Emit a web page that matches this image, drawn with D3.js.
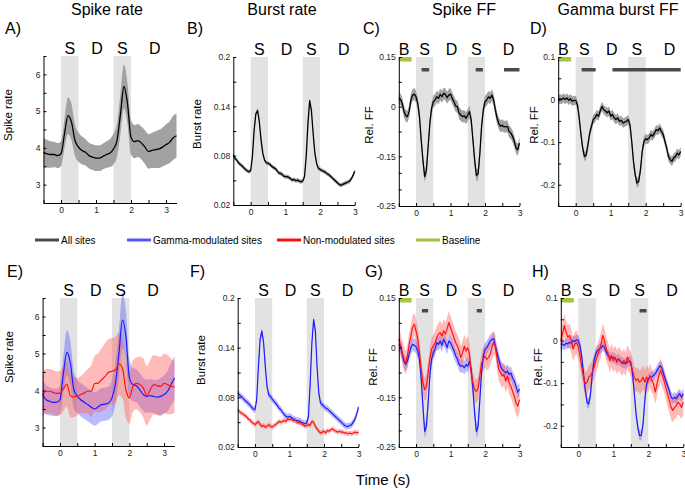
<!DOCTYPE html>
<html>
<head>
<meta charset="utf-8">
<script src="https://cdn.jsdelivr.net/npm/d3@7"></script>
<style>
  body { margin: 0; background: #fff; }
  text { font-family: "Liberation Sans", Arial, Helvetica, sans-serif; }
</style>
</head>
<body>
<div id="fig"></div>
<script>
// ---- time grids (seconds) ----
const tCoarse = d3.range(39).map(i => +(-0.5 + i * 0.1).toFixed(2));   // -0.5 .. 3.3
const tFine = d3.range(71).map(i => +(-0.5 + i * 0.05).toFixed(2));    // -0.5 .. 3.0

// ---- events ----
const stimWindows = [[0, 0.5], [1.5, 2.0]];
const baselineWindow = [-0.5, -0.13];
const eventLabels = ["S", "D", "S", "D"];
const eventTimes = [0.25, 1.03, 1.75, 2.68];
const baselineLabelTime = -0.35;

// ---- ticks ----
const timeTicks = [-0.5, 0, 0.5, 1, 1.5, 2, 2.5, 3];
const timeTickLabels = [0, 1, 2, 3];
const rateTicks = [2.5, 3, 3.5, 4, 4.5, 5, 5.5, 6, 6.5];
const rateTickVals = [3, 4, 5, 6];
const rateTickText = ["3", "4", "5", "6"];
const burstTicks = [0.02, 0.05, 0.08, 0.11, 0.14, 0.17, 0.2];
const burstTickVals = [0.02, 0.08, 0.14, 0.2];
const burstTickText = ["0.02", "0.08", "0.14", "0.2"];
const spikeFFTicks = [0.15, 0.075, 0, -0.075, -0.15, -0.2, -0.25, -0.3];
const spikeFFTickVals = [0.15, 0, -0.15, -0.3];
const spikeFFTickText = ["0.15", "0", "-0.15", "-0.25"];
const gammaFFTicks = [0.1, 0.05, 0, -0.05, -0.1, -0.15, -0.2, -0.25];
const gammaFFTickVals = [0.1, 0, -0.1, -0.2];
const gammaFFTickText = ["0.1", "0", "-0.1", "-0.2"];

// ---- significance bars ----
const sigSpikeFFAll = [[0.16, 0.38], [1.73, 1.94], [2.55, 3.0]];
const sigGammaFFAll = [[0.17, 0.57], [1.05, 3.0]];
const sigSpikeFFSplit = [[0.17, 0.35], [1.76, 1.91]];
const sigGammaFFSplit = [[1.75, 1.95]];

// ---- A) spike rate, all sites (tCoarse) ----
const spikeRateAll = [3.88, 3.84, 3.82, 3.82, 3.79,
  3.84, 4.38, 4.88, 4.7, 4.2, 4.02, 3.93, 3.88, 3.79, 3.75,
  3.72, 3.72, 3.77, 3.82, 3.86, 3.97, 4.2, 4.93, 5.67, 5.2,
  4.29, 4.17, 4.2, 4.13, 4.02, 3.9, 3.93, 3.95, 3.97, 4.02,
  4.09, 4.15, 4.27, 4.33];
const spikeRateAllSd = [.38, .38, .36, .35, .34,
  .34, .4, .5, .5, .42, .4, .38, .36, .35, .35,
  .35, .35, .35, .36, .38, .42, .45, .55, .6, .55,
  .47, .45, .45, .45, .46, .47, .48, .5, .52, .53,
  .55, .57, .6, .6];

// ---- B) burst rate, all sites (tFine) ----
const burstRateAll = [.0807, .0766, .0746, .0714, .0693, .0677, .0653, .0633, .0617, .0604,
  .0617, .0786, .111, .131, .135, .121, .0989, .0827, .0746, .0714,
  .0706, .0697, .0673, .0657, .0645, .0625, .0592, .0584, .0576, .0552,
  .0544, .0544, .0536, .052, .0503, .0511, .0495, .0503, .0491, .0483,
  .0491, .0544, .0786, .119, .147, .135, .107, .0827, .0706, .0645,
  .0633, .062, .061, .060, .058, .057, .055, .053, .051, .049,
  .047, .045, .044, .045, .046, .047, .048, .049, .052, .056,
  .061];
const burstRateAllSd = 0.0025;

// ---- C) spike FF, all sites (tFine) ----
const spikeFFAll = [.025, .022, .010, -.015, -.027, -.030, -.015, .020, .035, .038,
  .030, .010, -.030, -.101, -.162, -.211, -.193, -.122, -.051, -.005,
  .015, .020, .030, .025, .037, .030, .040, .037, .027, .035,
  .038, .025, .015, .002, .000, -.020, -.025, -.030, -.028, -.035,
  -.025, -.015, -.041, -.101, -.162, -.208, -.203, -.142, -.061, -.010,
  .015, .020, .030, .025, .035, .020, -.010, -.035, -.051, -.059,
  -.056, -.061, -.060, -.060, -.075, -.080, -.090, -.105, -.125, -.130,
  -.110];
const spikeFFAllSd = 0.018;

// ---- D) gamma burst FF, all sites (tFine) ----
const gammaFFAll = [-.002, .002, .000, .004, .000, .004, -.002, .002, -.004, -.002,
  -.002, -.012, -.043, -.082, -.114, -.134, -.130, -.106, -.079, -.063,
  -.047, -.043, -.035, -.039, -.027, -.016, -.024, -.027, -.031, -.027,
  -.039, -.035, -.043, -.047, -.043, -.051, -.049, -.055, -.053, -.051,
  -.047, -.059, -.098, -.145, -.177, -.196, -.192, -.165, -.122, -.098,
  -.092, -.094, -.090, -.082, -.086, -.079, -.071, -.073, -.067, -.075,
  -.082, -.098, -.114, -.134, -.141, -.145, -.137, -.134, -.126, -.130,
  -.122];
const gammaFFAllSd = 0.011;

// ---- E) spike rate, gamma-modulated vs non-modulated (tCoarse) ----
const spikeRateGamma = [3.89, 3.75, 3.71, 3.68, 3.68,
  3.75, 4.47, 5.03, 4.74, 4.02, 3.84, 3.75, 3.68, 3.62, 3.55,
  3.5, 3.56, 3.62, 3.63, 3.66, 3.8, 4.2, 5.01, 5.9, 5.46,
  4.34, 4.16, 4.13, 4.02, 3.89, 3.84, 3.86, 3.84, 3.82, 3.84,
  3.89, 3.98, 4.16, 4.34];
const spikeRateGammaSd = [.4, .4, .38, .37, .37,
  .38, .5, .6, .6, .5, .45, .45, .45, .45, .45,
  .45, .45, .45, .45, .45, .5, .55, .65, .75, .7,
  .5, .45, .45, .45, .45, .45, .45, .45, .47, .5,
  .52, .55, .58, .6];
const spikeRateNon = [3.89, 3.98, 3.98, 3.95, 3.92,
  3.93, 4.05, 4.17, 3.86, 3.83, 3.84, 3.89, 3.93, 3.98, 3.98,
  4.19, 4.2, 4.29, 4.38, 4.49, 4.52, 4.56, 4.72, 4.6, 4.02,
  3.8, 4.11, 4.19, 4.16, 4.07, 3.86, 4.02, 4.16, 4.13, 4.11,
  4.19, 4.16, 4.11, 4.1];
const spikeRateNonSd = [.6, .6, .6, .6, .6,
  .6, .6, .6, .58, .55, .5, .5, .55, .6, .7,
  .75, .8, .85, .9, .9, .9, .9, .85, .8, .75,
  .7, .7, .7, .75, .8, .8, .8, .8, .8, .8,
  .8, .8, .75, .7];

// ---- F) burst rate (tFine) ----
const burstRateGamma = [.085, .083, .081, .079, .077, .075, .073, .071, .068, .066,
  .065, .077, .117, .150, .160, .146, .117, .093, .083, .081,
  .078, .075, .073, .070, .067, .065, .062, .059, .057, .056,
  .057, .056, .054, .053, .052, .052, .051, .050, .049, .048,
  .049, .057, .097, .146, .174, .160, .117, .085, .073, .071,
  .069, .067, .066, .064, .062, .060, .058, .056, .054, .052,
  .050, .048, .046, .045, .045, .046, .047, .050, .054, .060,
  .068];
const burstRateNon = [.065, .063, .061, .060, .058, .057, .054, .053, .050, .049,
  .047, .049, .051, .047, .045, .046, .044, .045, .047, .045,
  .044, .046, .047, .049, .051, .050, .051, .052, .051, .054,
  .053, .054, .052, .053, .051, .049, .050, .048, .047, .045,
  .046, .047, .046, .051, .050, .045, .042, .039, .037, .038,
  .039, .037, .040, .039, .041, .042, .040, .039, .038, .039,
  .038, .038, .037, .037, .036, .037, .036, .037, .038, .037,
  .038];
const burstRateGammaSd = 0.004;
const burstRateNonSd = 0.003;

// ---- G) spike FF (tFine) ----
const spikeFFGamma = [.010, .003, -.020, -.041, -.051, -.041, -.020, .000, .010, .007,
  .003, -.010, -.035, -.096, -.177, -.253, -.238, -.167, -.086, -.035,
  -.015, -.005, .015, .010, .020, .007, .025, .015, .000, .020,
  .015, .003, -.010, -.025, -.035, -.051, -.056, -.054, -.061, -.051,
  -.056, -.041, -.066, -.127, -.198, -.253, -.238, -.157, -.076, -.025,
  -.005, .000, .010, .020, .025, .027, .005, -.015, -.035, -.056,
  -.066, -.071, -.076, -.071, -.081, -.076, -.091, -.101, -.117, -.135,
  -.125];
const spikeFFNon = [.025, .010, -.015, -.035, -.046, -.025, .010, .035, .061, .071,
  .051, .025, -.015, -.066, -.106, -.127, -.117, -.076, -.035, -.005,
  .005, .015, .030, .041, .046, .035, .051, .041, .056, .076,
  .061, .046, .030, .015, .005, -.010, -.030, -.015, .005, -.010,
  .000, -.020, -.076, -.106, -.127, -.132, -.122, -.086, -.046, -.035,
  -.025, -.035, -.030, -.020, .000, .015, .005, -.035, -.066, -.076,
  -.086, -.081, -.101, -.086, -.106, -.117, -.132, -.147, -.167, -.177,
  -.157];
const spikeFFGammaSd = 0.02;
const spikeFFNonSd = 0.035;

// ---- H) gamma burst FF (tFine) ----
const gammaFFGamma = [-.009, -.008, -.012, -.006, -.008, -.004, -.006, .000, -.002, .002,
  .000, -.012, -.039, -.078, -.117, -.145, -.149, -.125, -.078, -.047,
  -.031, -.023, -.020, -.017, -.012, -.016, -.027, -.035, -.038, -.041,
  -.039, -.043, -.047, -.043, -.049, -.051, -.053, -.055, -.051, -.047,
  -.051, -.078, -.125, -.172, -.204, -.223, -.223, -.196, -.141, -.102,
  -.090, -.086, -.085, -.082, -.078, -.070, -.063, -.059, -.067, -.082,
  -.094, -.106, -.117, -.133, -.137, -.133, -.137, -.129, -.125, -.133,
  -.125];
const gammaFFNon = [.000, .016, .035, .020, .008, .012, .000, -.020, -.008, -.004,
  -.016, -.035, -.063, -.086, -.102, -.098, -.086, -.082, -.074, -.063,
  -.047, -.035, -.023, -.008, .012, .000, -.020, -.031, -.047, -.035,
  -.047, -.039, -.051, -.043, -.047, -.055, -.047, -.055, -.039, -.047,
  -.055, -.070, -.086, -.094, -.090, -.098, -.094, -.086, -.098, -.086,
  -.094, -.082, -.094, -.102, -.121, -.102, -.082, -.070, -.082, -.094,
  -.110, -.125, -.141, -.157, -.164, -.157, -.153, -.145, -.149, -.157,
  -.145];
const gammaFFGammaSd = 0.012;
const gammaFFNonSd = 0.028;

// ---- legend ----
const legendNames = ["All sites", "Gamma-modulated sites", "Non-modulated sites", "Baseline"];

// ---- styles ----
const style = {
  all:   { line: "#000000", band: "#a2a2a2", width: 1.3 },
  gamma: { line: "#1c1cff", band: "rgba(90,90,255,0.42)", width: 1.2 },
  non:   { line: "#ff1414", band: "rgba(255,90,90,0.42)", width: 1.2 }
};
const legendColors = ["#4a4a4a", "#5555ff", "#ff1010", "#a9c23f"];
const baselineColor = "#a9c23f";
const sigColor = "#4a4a4a";

const width = 685, height = 490;
const svg = d3.select("#fig").append("svg")
  .attr("width", width)
  .attr("height", height);

// panel layout: x range is pixel span of [-0.5, tmax]; y range is [bottom, top]
const panels = [
  { letter: "A)", lx: 5, ly: 34, title: "Spike rate", tx: 107, ylab: "Spike rate", ylx: 12, yly: 115,
    xr: [43.5, 176.5], tmax: 3.3, yr: [203, 56], ydom: [2.5, 6.5],
    yt: rateTicks, ytv: rateTickVals, ytt: rateTickText, ff: false,
    series: [{ t: tCoarse, v: spikeRateAll, sd: spikeRateAllSd, s: "all", smooth: true }] },
  { letter: "B)", lx: 187, ly: 34, title: "Burst rate", tx: 282, ylab: "Burst rate", ylx: 201, yly: 124,
    xr: [233.3, 354.8], tmax: 3.0, yr: [205, 57], ydom: [0.02, 0.2],
    yt: burstTicks, ytv: burstTickVals, ytt: burstTickText, ff: false,
    series: [{ t: tFine, v: burstRateAll, sd: burstRateAllSd, s: "all" }] },
  { letter: "C)", lx: 363, ly: 34, title: "Spike FF", tx: 464, ylab: "Rel. FF", ylx: 373, yly: 125,
    xr: [398.8, 519.5], tmax: 3.0, yr: [206, 57], ydom: [-0.3, 0.15],
    yt: spikeFFTicks, ytv: spikeFFTickVals, ytt: spikeFFTickText, ff: true, sig: sigSpikeFFAll,
    series: [{ t: tFine, v: spikeFFAll, sd: spikeFFAllSd, s: "all" }] },
  { letter: "D)", lx: 530, ly: 34, title: "Gamma burst FF", tx: 618, ylab: "Rel. FF", ylx: 538, yly: 125,
    xr: [558.2, 680.7], tmax: 3.0, yr: [206, 57], ydom: [-0.25, 0.1],
    yt: gammaFFTicks, ytv: gammaFFTickVals, ytt: gammaFFTickText, ff: true, sig: sigGammaFFAll,
    series: [{ t: tFine, v: gammaFFAll, sd: gammaFFAllSd, s: "all" }] },
  { letter: "E)", lx: 7, ly: 277, ylab: "Spike rate", ylx: 13, yly: 357,
    xr: [42.6, 174.5], tmax: 3.3, yr: [446, 298], ydom: [2.5, 6.5],
    yt: rateTicks, ytv: rateTickVals, ytt: rateTickText, ff: false,
    series: [{ t: tCoarse, v: spikeRateGamma, sd: spikeRateGammaSd, s: "gamma", smooth: true },
             { t: tCoarse, v: spikeRateNon, sd: spikeRateNonSd, s: "non", smooth: true }] },
  { letter: "F)", lx: 190, ly: 277, ylab: "Burst rate", ylx: 205, yly: 360,
    xr: [237.7, 358.5], tmax: 3.0, yr: [447, 298], ydom: [0.02, 0.2],
    yt: burstTicks, ytv: burstTickVals, ytt: burstTickText, ff: false,
    series: [{ t: tFine, v: burstRateGamma, sd: burstRateGammaSd, s: "gamma" },
             { t: tFine, v: burstRateNon, sd: burstRateNonSd, s: "non" }] },
  { letter: "G)", lx: 365, ly: 277, ylab: "Rel. FF", ylx: 377, yly: 367,
    xr: [398.8, 519.5], tmax: 3.0, yr: [447, 298], ydom: [-0.3, 0.15],
    yt: spikeFFTicks, ytv: spikeFFTickVals, ytt: spikeFFTickText, ff: true, sig: sigSpikeFFSplit,
    series: [{ t: tFine, v: spikeFFGamma, sd: spikeFFGammaSd, s: "gamma" },
             { t: tFine, v: spikeFFNon, sd: spikeFFNonSd, s: "non" }] },
  { letter: "H)", lx: 532, ly: 277, ylab: "Rel. FF", ylx: 542, yly: 367,
    xr: [560.8, 683.3], tmax: 3.0, yr: [447, 298], ydom: [-0.25, 0.1],
    yt: gammaFFTicks, ytv: gammaFFTickVals, ytt: gammaFFTickText, ff: true, sig: sigGammaFFSplit,
    series: [{ t: tFine, v: gammaFFGamma, sd: gammaFFGammaSd, s: "gamma" },
             { t: tFine, v: gammaFFNon, sd: gammaFFNonSd, s: "non" }] }
];

function drawPanel(p) {
  const x = d3.scaleLinear().domain([-0.5, p.tmax]).range(p.xr);
  const y = d3.scaleLinear().domain(p.ydom).range(p.yr);
  const top = p.yr[1], bottom = p.yr[0];
  const g = svg.append("g");

  // stimulus windows
  g.selectAll("rect.stim")
    .data(stimWindows)
    .enter().append("rect")
    .attr("x", d => x(d[0]))
    .attr("width", d => x(d[1]) - x(d[0]))
    .attr("y", top)
    .attr("height", bottom - top)
    .attr("fill", "#e2e2e2");

  // build points for every series
  const rows = p.series.map(s => ({
    s: s,
    pts: s.t.map((t, i) => ({
      t: t, v: s.v[i],
      sd: Array.isArray(s.sd) ? s.sd[i] : s.sd
    }))
  }));

  // error bands
  rows.forEach(r => {
    const area = d3.area()
      .x(d => x(d.t))
      .y0(d => y(d.v - d.sd))
      .y1(d => y(d.v + d.sd))
      .curve(r.s.smooth ? d3.curveMonotoneX : d3.curveLinear);
    g.append("path")
      .datum(r.pts)
      .attr("d", area)
      .attr("fill", style[r.s.s].band);
  });

  // mean lines
  rows.forEach(r => {
    const line = d3.line()
      .x(d => x(d.t))
      .y(d => y(d.v))
      .curve(r.s.smooth ? d3.curveMonotoneX : d3.curveLinear);
    g.append("path")
      .datum(r.pts)
      .attr("d", line)
      .attr("fill", "none")
      .attr("stroke", style[r.s.s].line)
      .attr("stroke-width", style[r.s.s].width)
      .attr("stroke-linejoin", "round");
  });

  // baseline bar and significance bars (FF panels)
  if (p.ff) {
    g.append("rect")
      .attr("x", x(baselineWindow[0]))
      .attr("width", x(baselineWindow[1]) - x(baselineWindow[0]))
      .attr("y", top)
      .attr("height", 4.5)
      .attr("fill", baselineColor);
    g.selectAll("rect.sig")
      .data(p.sig)
      .enter().append("rect")
      .attr("x", d => x(d[0]))
      .attr("width", d => x(d[1]) - x(d[0]))
      .attr("y", top + 11)
      .attr("height", 3.5)
      .attr("fill", sigColor);
  }

  // axes (ticks pointing inward, MATLAB style)
  const xAxis = d3.axisBottom(x)
    .tickValues(timeTicks)
    .tickFormat(d => timeTickLabels.includes(d) ? d : "")
    .tickSize(-3).tickSizeOuter(0).tickPadding(4);
  const yAxis = d3.axisLeft(y)
    .tickValues(p.yt)
    .tickFormat(d => { const i = p.ytv.indexOf(d); return i < 0 ? "" : p.ytt[i]; })
    .tickSize(-3).tickSizeOuter(0).tickPadding(3);

  [g.append("g").attr("transform", `translate(0,${bottom})`).call(xAxis),
   g.append("g").attr("transform", `translate(${p.xr[0]},0)`).call(yAxis)]
    .forEach(a => {
      a.attr("font-family", "Liberation Sans, Arial, sans-serif").attr("font-size", 8.5);
      a.selectAll("text").attr("fill", "#222");
      a.select(".domain").attr("stroke", "#000");
      a.selectAll(".tick line").attr("stroke", "#000");
    });

  // event labels
  const labs = eventLabels.map((l, i) => ({ l: l, t: eventTimes[i] }));
  if (p.ff) labs.unshift({ l: "B", t: baselineLabelTime });
  g.selectAll("text.ev")
    .data(labs)
    .enter().append("text")
    .attr("x", d => x(d.t))
    .attr("y", top - 2)
    .attr("text-anchor", "middle")
    .attr("font-size", 16)
    .text(d => d.l);

  // y label
  g.append("text")
    .attr("transform", `translate(${p.ylx},${p.yly}) rotate(-90)`)
    .attr("text-anchor", "middle")
    .attr("font-size", 11.5)
    .text(p.ylab);

  // panel letter
  g.append("text")
    .attr("x", p.lx).attr("y", p.ly)
    .attr("font-size", 16)
    .text(p.letter);

  // column title
  if (p.title) {
    g.append("text")
      .attr("x", p.tx).attr("y", 15)
      .attr("text-anchor", "middle")
      .attr("font-size", 16)
      .text(p.title);
  }
}

panels.forEach(drawPanel);

// legend
const legendX = [35, 127, 277, 416];
const leg = svg.append("g").attr("transform", "translate(0,240)");
legendNames.forEach((name, i) => {
  leg.append("line")
    .attr("x1", legendX[i]).attr("x2", legendX[i] + 24)
    .attr("y1", 0).attr("y2", 0)
    .attr("stroke", legendColors[i])
    .attr("stroke-width", 3);
  leg.append("text")
    .attr("x", legendX[i] + 26).attr("y", 3.5)
    .attr("font-size", 10)
    .text(name);
});

// shared x label
svg.append("text")
  .attr("x", 383).attr("y", 485)
  .attr("text-anchor", "middle")
  .attr("font-size", 15)
  .text("Time (s)");
</script>
</body>
</html>
